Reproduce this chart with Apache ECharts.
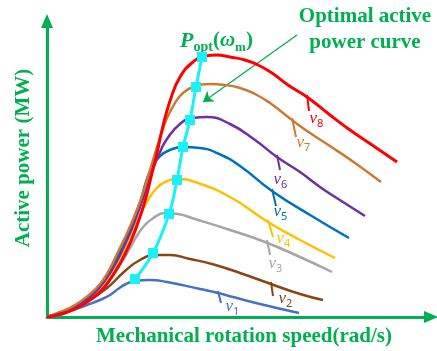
<!DOCTYPE html>
<html>
<head>
<meta charset="utf-8">
<script src="https://cdn.jsdelivr.net/npm/echarts@6/dist/echarts.min.js"></script>
<style>html,body{margin:0;padding:0;background:#fff}#c{width:437px;height:351px}</style>
</head>
<body>
<div id="c"></div>
<script>
// Curve values (speed, power) in arbitrary chart units
const v1 = [[0,0],[13,2],[26,7],[40,12],[53,17],[63,22],[71,28],[79,33],[88,36],[103,37],[120,35],[153,28],[171,24],[186,20],[213,13],[252,4]];
const v2 = [[0,0],[18,5],[38,14],[60,29],[78,46],[93,57],[108,62],[123,62],[143,58],[165,53],[193,44],[224,33],[253,23],[276,17]];
const v3 = [[0,0],[13,4],[28,10],[43,19],[53,27],[63,38],[73,52],[83,69],[91,83],[98,92],[105,98],[118,104],[131,103],[148,98],[183,87],[218,75],[253,60],[285,45]];
const v4 = [[0,0],[13,4],[28,10],[43,20],[53,29],[63,42],[73,59],[83,80],[93,102],[100,115],[108,127],[118,135],[131,138],[148,135],[183,120],[221,95],[253,77],[288,59]];
const v5 = [[0,0],[13,4],[28,11],[43,21],[53,31],[63,46],[73,65],[83,87],[93,114],[99,135],[105,150],[113,161],[123,167],[136,170],[153,169],[170,164],[193,151],[225,126],[263,102],[302,79]];
const v6 = [[0,0],[13,4],[28,10],[43,20],[53,30],[63,44],[73,62],[83,84],[93,110],[101,134],[107,151],[113,165],[120,178],[133,193],[146,199],[160,200],[183,193],[208,177],[230,160],[253,145],[273,130],[296,115],[318,101]];
const v7 = [[0,0],[13,5],[28,12],[43,23],[53,33],[61,45],[71,65],[81,86],[91,110],[100,137],[106,157],[113,179],[120,199],[128,214],[136,224],[146,230],[163,233],[178,232],[193,229],[208,223],[223,214],[245,197],[263,184],[286,169],[308,154],[334,135]];
const v8 = [[0,0],[13,3],[28,8],[43,17],[55,27],[68,45],[78,63],[88,86],[98,116],[105,144],[110,164],[115,187],[123,216],[133,240],[146,255],[158,261],[170,262],[183,260],[198,257],[211,252],[225,244],[241,232],[260,220],[283,202],[303,187],[328,170],[350,155]];
const optimal = [[88,38],[106,64],[122,103],[130,137],[136,170],[143,197],[149,230],[155,260]];

const curveNames = ['1','2','3','4','5','6','7','8'];
// leader line endpoints (start on curve, end near label) and label anchors
const leaderStart = [[171,26],[224,35],[220,77],[221,97],[225,128],[230,162],[245,199],[260,222]];
const leaderEnd   = [[174,14],[226,21],[223,62],[226,80],[229,111],[233,147],[249,180],[262,206]];
const labelAt     = [[178,10],[231,18],[221,53],[229,78],[226,105],[226,137],[249,174],[262,198]];
const arrowFrom = [250,282], arrowTo = [156,215];

const curves = [v1,v2,v3,v4,v5,v6,v7,v8];
const colors = ['#4472C4','#8A4515','#A5A5A5','#FFC000','#0070C0','#7030A0','#CC7A33','#FF0000'];
const GREEN = '#00B050';

const series = curves.map((d,i)=>{
  const s = {
    type:'line', data:d, smooth:0.5, showSymbol:false, symbol:'none',
    lineStyle:{color:colors[i], width: i===7?3:2.5}, z: 2+i, silent:true, animation:false,
    markLine:{silent:true, animation:false, symbol:['none','none'], label:{show:false},
      lineStyle:{color:colors[i], width:2, type:'solid'},
      data:[[{coord:leaderStart[i]},{coord:leaderEnd[i]}]]},
    markPoint:{silent:true, animation:false, symbol:'circle', symbolSize:1, itemStyle:{color:'transparent'},
      label:{show:true, position:'right', distance:0,
        formatter:'{v|v}{s|'+curveNames[i]+'}',
        rich:{v:{fontFamily:'Liberation Serif', fontStyle:'italic', fontSize:17, lineHeight:20, color:colors[i], verticalAlign:'middle'},
              s:{fontFamily:'Noto Sans', fontSize:11, lineHeight:12, color:colors[i], verticalAlign:'bottom'}}},
      data:[{coord:labelAt[i], value:curveNames[i]}]}
  };
  if(i===7){
    s.markLine.data.push([{coord:arrowFrom, symbol:'none', lineStyle:{color:GREEN,width:1.3}},
                          {coord:arrowTo, symbol:'arrow', symbolSize:10, lineStyle:{color:GREEN,width:1.3}}]);
  }
  return s;
});
series.push({
  type:'line', data:optimal, smooth:0.4, symbol:'rect', symbolSize:10, showSymbol:true,
  lineStyle:{color:'#19F0FA', width:3}, itemStyle:{color:'#19F0FA'}, z:20, silent:true, animation:false
});

const chart = echarts.init(document.getElementById('c'), null, {renderer:'canvas'});
chart.setOption({
  animation:false,
  grid:{left:47, right:6, top:21, bottom:34},
  xAxis:{type:'value', min:0, max:384,
    axisLine:{show:true, onZero:false, symbol:['none','triangle'], symbolSize:[12,14], lineStyle:{color:GREEN, width:3}},
    axisTick:{show:false}, axisLabel:{show:false}, splitLine:{show:false}},
  yAxis:{type:'value', min:0, max:296,
    axisLine:{show:true, onZero:false, symbol:['none','triangle'], symbolSize:[12,14], lineStyle:{color:GREEN, width:3}},
    axisTick:{show:false}, axisLabel:{show:false}, splitLine:{show:false}},
  series: series,
  graphic:[
    {type:'text', x:24, y:158, rotation:Math.PI/2, silent:true,
      style:{text:'Active power (MW)', fill:GREEN, font:'bold 21px "Liberation Serif"', align:'center', verticalAlign:'middle'}},
    {type:'text', x:244, y:337, silent:true,
      style:{text:'Mechanical rotation speed(rad/s)', fill:GREEN, font:'bold 21px "Liberation Serif"', align:'center', verticalAlign:'middle'}},
    {type:'text', x:365, y:17, silent:true,
      style:{text:'Optimal active', fill:GREEN, font:'bold 21px "Liberation Serif"', align:'center', verticalAlign:'middle'}},
    {type:'text', x:365, y:43, silent:true,
      style:{text:'power curve', fill:GREEN, font:'bold 21px "Liberation Serif"', align:'center', verticalAlign:'middle'}},
    {type:'text', x:180, y:41, silent:true,
      style:{text:'{P|P}{s|opt}{n|(}{w|ω}{m|m}{n|)}', align:'left', verticalAlign:'middle',
        rich:{
          P:{fontFamily:'Liberation Serif', fontStyle:'italic', fontWeight:'bold', fontSize:22, lineHeight:26, fill:GREEN, color:GREEN, verticalAlign:'middle'},
          s:{fontFamily:'Liberation Serif', fontWeight:'bold', fontSize:14, lineHeight:14, fill:GREEN, color:GREEN, verticalAlign:'bottom'},
          n:{fontFamily:'Liberation Serif', fontWeight:'bold', fontSize:21, lineHeight:26, fill:GREEN, color:GREEN, verticalAlign:'middle'},
          w:{fontFamily:'Liberation Serif', fontStyle:'italic', fontWeight:'bold', fontSize:21, lineHeight:26, fill:GREEN, color:GREEN, verticalAlign:'middle'},
          m:{fontFamily:'Liberation Serif', fontWeight:'bold', fontSize:13, lineHeight:13, fill:GREEN, color:GREEN, verticalAlign:'bottom'}
        }}}
  ]
});
</script>
</body>
</html>
